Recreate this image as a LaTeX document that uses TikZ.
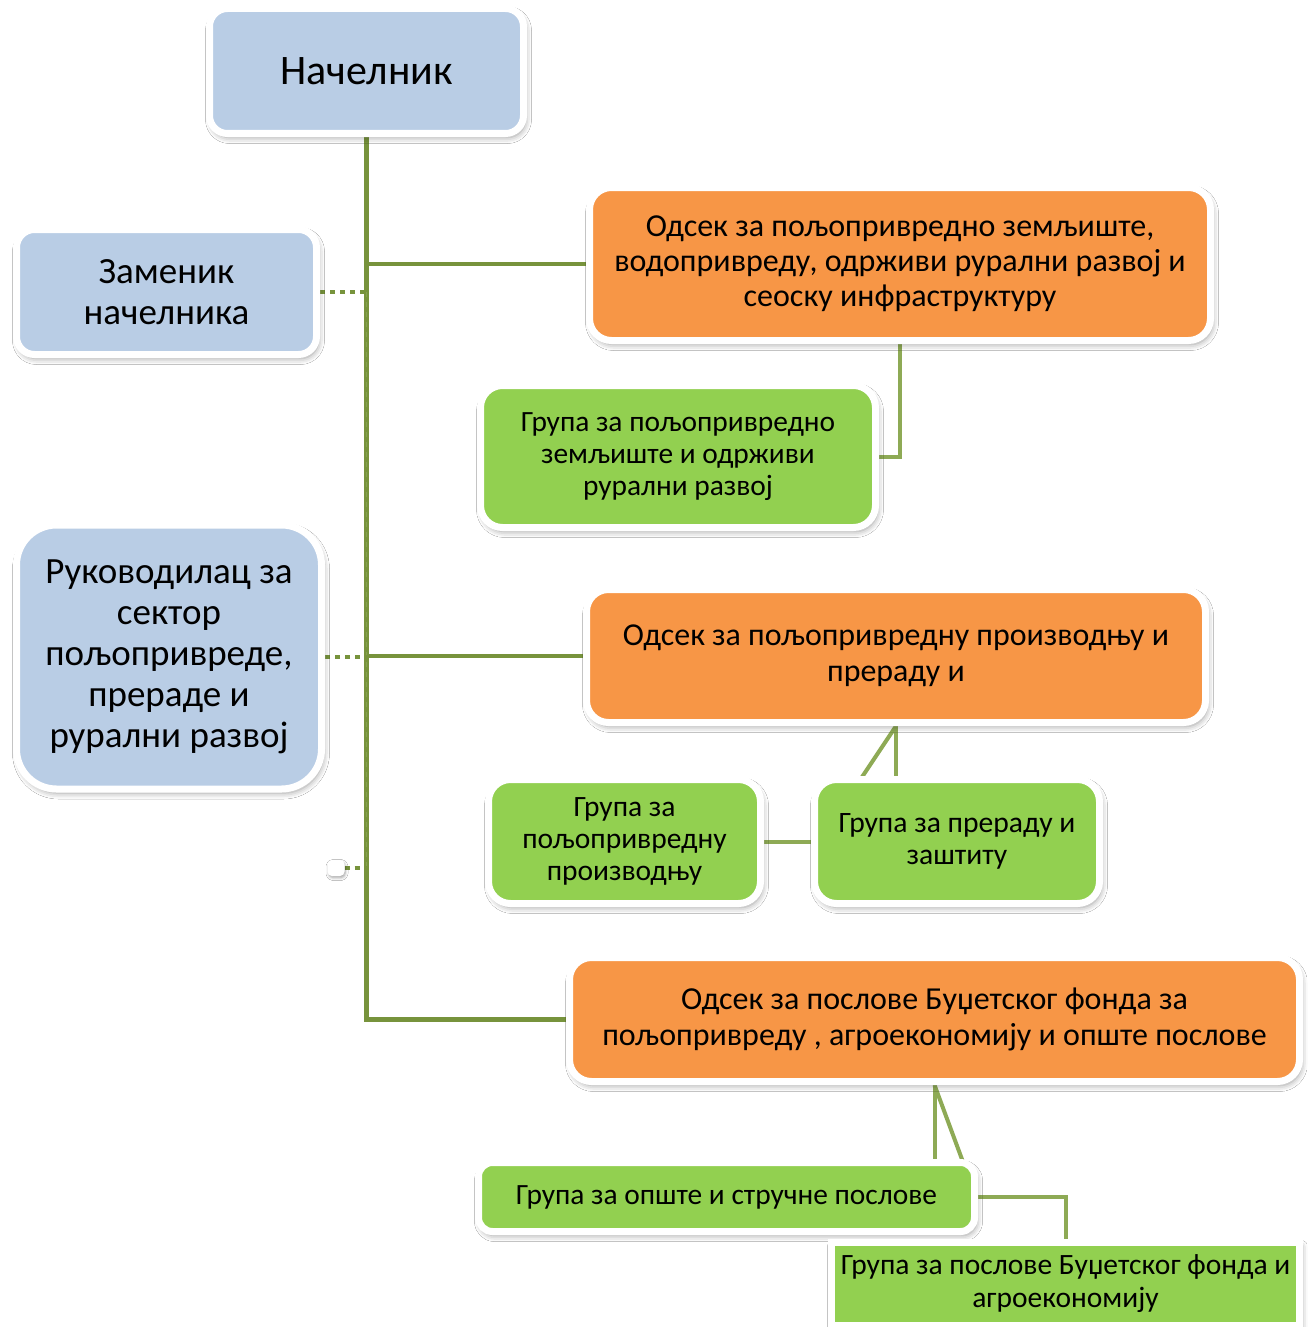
\documentclass[tikz,border=0pt]{standalone}
\usepackage{fontspec}
\setmainfont{Carlito}
\usetikzlibrary{shadows.blur,backgrounds}
\definecolor{bluefill}{HTML}{B9CDE5}
\definecolor{orangefill}{HTML}{F79646}
\definecolor{greenfill}{HTML}{92D050}
\definecolor{trunkcol}{HTML}{77933C}
\definecolor{subcol}{HTML}{8EAA55}
\definecolor{trunklight}{HTML}{86A24E}
\tikzset{
  x=1pt, y=-1pt,
  boxbase/.style={draw=white, line width=7pt, align=center, inner sep=0pt, text=black,
    blur shadow={shadow xshift=2pt, shadow yshift=-4pt, shadow blur radius=6pt, shadow opacity=40}},
  bluebox/.style={boxbase, fill=bluefill, rounded corners=18pt},
  orangebox/.style={boxbase, fill=orangefill, rounded corners=22pt},
  greenbox/.style={boxbase, fill=greenfill, rounded corners=22pt},
  squarebox/.style={boxbase, fill=greenfill},
  mainline/.style={draw=trunkcol, line width=4.5pt},
  subline/.style={draw=subcol, line width=4pt},
  dotline/.style={draw=trunkcol, line width=4pt, dash pattern=on 5pt off 5pt},
}
\begin{document}
\begin{tikzpicture}
\useasboundingbox (0,0) rectangle (1307,1327);

% nodes
\node[bluebox, minimum width=314pt, minimum height=125pt, font=\fontsize{42}{49}\selectfont] (nach) at (366.5,71) {Начелник};
\node[bluebox, minimum width=300pt, minimum height=125pt, font=\fontsize{37}{41}\selectfont] (zam) at (166.5,292) {Заменик\\начелника};
\node[bluebox, rounded corners=40pt, minimum width=305pt, minimum height=264pt, font=\fontsize{37}{41}\selectfont] (ruk) at (169,657) {Руководилац за\\сектор\\пољопривреде,\\прераде и\\рурални развој};
\node[orangebox, minimum width=621pt, minimum height=153pt, font=\fontsize{32}{35}\selectfont] (o1) at (900,264) {Одсек за пољопривредно земљиште,\\водопривреду, одрживи рурални развој и\\сеоску инфраструктуру};
\node[greenbox, minimum width=395pt, minimum height=142pt, font=\fontsize{29.4}{32}\selectfont] (g1) at (678,456.5) {Група за пољопривредно\\земљиште и одрживи\\рурални развој};
\node[orangebox, minimum width=619pt, minimum height=133pt, font=\fontsize{31.9}{36}\selectfont] (o2) at (896,656) {Одсек за пољопривредну производњу и\\прераду и};
\node[greenbox, minimum width=272pt, minimum height=124pt, font=\fontsize{29.5}{32}\selectfont] (g2a) at (624.5,841.5) {Група за\\пољопривредну\\производњу};
\node[greenbox, minimum width=285pt, minimum height=124pt, font=\fontsize{29.6}{32}\selectfont] (g2b) at (957,841.5) {Група за прераду и\\заштиту};
\node[orangebox, minimum width=730pt, minimum height=124pt, font=\fontsize{32}{36}\selectfont] (o3) at (934.5,1019.5) {Одсек за послове Буџетског фонда за\\пољопривреду , агроекономију и опште послове};
\node[greenbox, rounded corners=14pt, minimum width=496pt, minimum height=69pt, font=\fontsize{29.4}{32}\selectfont] (g3a) at (726.5,1197) {Група за опште и стручне послове};
\node[squarebox, minimum width=468pt, minimum height=83pt, font=\fontsize{29.5}{33}\selectfont] (g3b) at (1065.5,1284) {Група за послове Буџетског фонда и\\агроекономију};
\node[draw=white, fill=white, line width=1pt, rounded corners=4pt, minimum width=16pt, minimum height=15pt,
  blur shadow={shadow xshift=1pt, shadow yshift=-2pt, shadow blur radius=3pt, shadow opacity=40}] (sm) at (336,868) {};

% connectors
\begin{scope}[on background layer]
  \fill[white] (0,0) rectangle (1307,1327);
  \coordinate (tz) at (nach.south |- zam.east);
  \coordinate (ts) at (nach.south |- sm.east);
  \draw[mainline] (nach.south) |- (o3.west);
  \draw[mainline] (nach.south |- o1.west) -- (o1.west);
  \draw[mainline] (nach.south |- o2.west) -- (o2.west);
  \draw[draw=trunklight, line width=1.5pt, dash pattern=on 5pt off 5pt] (tz) -- (ts);
  \draw[dotline] (zam.east) -- (tz);
  \draw[dotline] (ruk.east) -- (nach.south |- ruk.east);
  \draw[dotline] (sm.east) -- (ts);
  \draw[subline] (o1.south) |- (g1.east);
  \coordinate (d2) at (860,780);
  \draw[subline] (o2.south) -- (o2.south |- g2b.north);
  \draw[subline] (o2.south) -- (d2);
  \draw[subline] (g2a.east) -- (g2b.west);
  \coordinate (d3) at (963,1162);
  \draw[subline] (o3.south) -- (o3.south |- g3a.north);
  \draw[subline] (o3.south) -- (d3);
  \draw[subline] (g3a.east) -| (g3b.north);
\end{scope}
\end{tikzpicture}
\end{document}
